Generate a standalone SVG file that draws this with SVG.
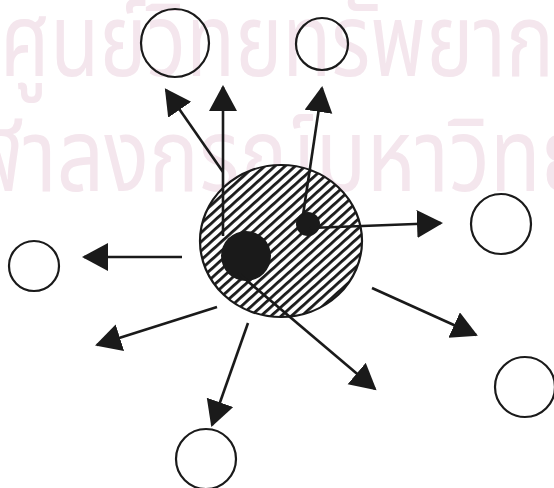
<svg xmlns="http://www.w3.org/2000/svg" width="554" height="488" viewBox="0 0 554 488">
<style>
.wm{font-family:"Noto Sans Thai","Noto Sans","DejaVu Sans",sans-serif;fill:#f4e6ed;font-size:92px}
.c{fill:none;stroke:#1a1a1a;stroke-width:2.2}
.ln{stroke:#1a1a1a;stroke-width:2.6;fill:none}
.arr{marker-end:url(#ah)}
</style>
<defs>
<marker id="ah" markerUnits="userSpaceOnUse" markerWidth="30" markerHeight="30" refX="24" refY="14" orient="auto">
<path d="M0,0 L26,14 L0,28 Z" fill="#1a1a1a"/>
</marker>
<pattern id="hatch" patternUnits="userSpaceOnUse" width="6.8" height="6.8" patternTransform="rotate(-42)">
<rect width="6.8" height="6.8" fill="#fff"/>
<rect x="0" y="0" width="6.8" height="2.8" fill="#1a1a1a"/>
</pattern>
</defs>
<rect width="554" height="488" fill="#fff"/>
<g id="watermark">
<text class="wm" x="0" y="69" transform="scale(0.87,1.1)">ศูนย์วิทยทรัพยากร</text>
<text class="wm" x="-85" y="174" transform="scale(0.905,1.1)">จุฬาลงกรณ์มหาวิทยาลัย</text>
</g>
<g id="source">
<ellipse cx="281" cy="241" rx="81" ry="76" fill="url(#hatch)" stroke="#1a1a1a" stroke-width="2.2"/>
<circle cx="246" cy="256" r="25" fill="#1a1a1a"/>
<circle cx="308" cy="224" r="12" fill="#1a1a1a"/>
</g>
<g id="target-top-left"><circle class="c" cx="175" cy="43" r="34"/></g>
<g id="target-top-right"><circle class="c" cx="322" cy="44" r="26"/></g>
<g id="target-left"><circle class="c" cx="34" cy="266" r="25"/></g>
<g id="target-right"><circle class="c" cx="501" cy="224" r="30"/></g>
<g id="target-bottom-right"><circle class="c" cx="525" cy="387" r="30"/></g>
<g id="target-bottom"><circle class="c" cx="206" cy="459" r="30"/></g>
<g id="connectors">
<line class="ln arr" x1="223" y1="172" x2="166" y2="90"/>
<line class="ln arr" x1="223" y1="236" x2="223" y2="87"/>
<line class="ln arr" x1="303" y1="215" x2="322" y2="88"/>
<line class="ln arr" x1="310" y1="228" x2="441" y2="223"/>
<line class="ln arr" x1="372" y1="288" x2="476" y2="335"/>
<line class="ln arr" x1="238" y1="273" x2="375" y2="389"/>
<line class="ln arr" x1="248" y1="323" x2="212" y2="425"/>
<line class="ln arr" x1="217" y1="307" x2="97" y2="345"/>
<line class="ln arr" x1="182" y1="257" x2="84" y2="257"/>
</g>
</svg>
